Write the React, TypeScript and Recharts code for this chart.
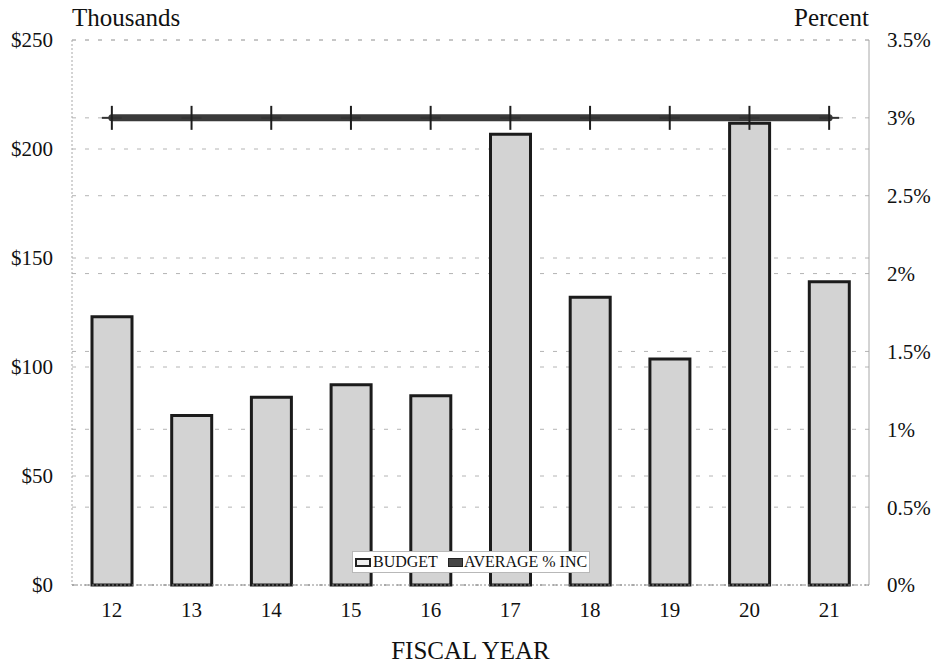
import React from 'react';
import {
  ComposedChart,
  Bar,
  Line,
  XAxis,
  YAxis,
  CartesianGrid,
  Legend,
  Label,
} from 'recharts';

// Fiscal years on the category axis
const years = ['12', '13', '14', '15', '16', '17', '18', '19', '20', '21'];
// Budget per fiscal year, in thousands of dollars
const budget = [123.1, 77.8, 86.1, 91.9, 86.8, 206.8, 132.0, 103.7, 211.8, 139.1];
// Average percent increase per fiscal year
const avgInc = [3, 3, 3, 3, 3, 3, 3, 3, 3, 3];
// Tick values for the two value axes
const dollarTicks = [0, 50, 100, 150, 200, 250];
const percentTicks = [0, 0.5, 1, 1.5, 2, 2.5, 3, 3.5];

const FONT = '"Liberation Serif", "Times New Roman", serif';

const rows = years.map((year, i) => ({
  year,
  budget: budget[i],
  avgInc: avgInc[i],
}));

const CrossDot = (props: any) => {
  const { cx, cy, index } = props;
  if (cx == null || cy == null) return null;
  return (
    <g key={`dot-${index}`}>
      <line x1={cx - 10} x2={cx + 10} y1={cy} y2={cy} stroke="#333" strokeWidth={2} />
      <line x1={cx} x2={cx} y1={cy - 12} y2={cy + 12} stroke="#1e1e1e" strokeWidth={2} />
    </g>
  );
};

const LegendBox = () => (
  <div
    style={{
      display: 'flex',
      alignItems: 'center',
      height: 22,
      width: 238,
      boxSizing: 'border-box',
      border: '1px solid #b8b8b8',
      background: '#fff',
      fontFamily: FONT,
      fontSize: 16,
      color: '#111',
      whiteSpace: 'nowrap',
      paddingLeft: 2,
    }}
  >
    <span
      style={{
        display: 'inline-block',
        width: 16,
        height: 9,
        boxSizing: 'border-box',
        border: '2px solid #222',
        background: '#eeeeee',
        marginRight: 2,
      }}
    />
    <span style={{ marginRight: 10 }}>BUDGET</span>
    <span
      style={{
        display: 'inline-block',
        width: 15,
        height: 9,
        boxSizing: 'border-box',
        border: '1px solid #222',
        background: '#454545',
        marginRight: 1,
      }}
    />
    <span>AVERAGE % INC</span>
  </div>
);

const axisTitle = (text: string, side: 'left' | 'right') => (props: any) => {
  const vb = props.viewBox || {};
  const x = side === 'left' ? (vb.x ?? 0) + (vb.width ?? 72) : vb.x ?? 869;
  const y = (vb.y ?? 40) - 14;
  return (
    <text
      x={x}
      y={y}
      textAnchor={side === 'left' ? 'start' : 'end'}
      fontFamily={FONT}
      fontSize={25}
      fill="#111"
    >
      {text}
    </text>
  );
};

// Tick renderers that pin the serif face on every label
const makeTick =
  (anchor: 'start' | 'middle' | 'end', dy: string, format: (v: any) => string) =>
  (props: any) => {
    const { x, y, payload } = props;
    return (
      <text
        x={x}
        y={y}
        dy={dy}
        textAnchor={anchor}
        fontFamily={FONT}
        fontSize={21}
        fill="#111"
      >
        {format(payload.value)}
      </text>
    );
  };

const xTick = makeTick('middle', '0.71em', (v) => `${v}`);
const dollarTick = makeTick('end', '0.355em', (v) => `$${v}`);
const percentTick = makeTick('start', '0.355em', (v) => `${v}%`);

export default function App() {
  return (
    <div style={{ position: 'absolute', left: 0, top: 0, background: '#fff', fontFamily: FONT }}>
      <ComposedChart
        width={935}
        height={664}
        data={rows}
        margin={{ top: 40, right: 0, bottom: 0, left: 0 }}
        barCategoryGap="50%"
        style={{ fontFamily: FONT }}
      >
        <CartesianGrid
          yAxisId="left"
          vertical={false}
          stroke="#b4b4b4"
          strokeDasharray="4 9"
        />
        <CartesianGrid
          yAxisId="right"
          vertical={false}
          stroke="#b4b4b4"
          strokeDasharray="4 9"
        />
        <XAxis
          dataKey="year"
          height={79}
          tickLine={false}
          tickSize={0}
          tickMargin={17}
          axisLine={{ stroke: '#8a8a8a', strokeDasharray: '2 2' }}
          tick={xTick}
        >
          <Label
            value="FISCAL YEAR"
            position="insideBottom"
            offset={5}
            style={{ fontFamily: FONT, fontSize: 25, fill: '#111' }}
          />
        </XAxis>
        <YAxis
          yAxisId="left"
          orientation="left"
          width={72}
          domain={[0, 250]}
          ticks={dollarTicks}
          interval={0}
          tickLine={false}
          tickSize={0}
          tickMargin={19}
          axisLine={{ stroke: '#a8a8a8', strokeDasharray: '2 2' }}
          tick={dollarTick}
        >
          <Label content={axisTitle('Thousands', 'left')} />
        </YAxis>
        <YAxis
          yAxisId="right"
          orientation="right"
          width={66}
          domain={[0, 3.5]}
          ticks={percentTicks}
          interval={0}
          tickLine={false}
          tickSize={0}
          tickMargin={18}
          axisLine={{ stroke: '#a8a8a8' }}
          tick={percentTick}
        >
          <Label content={axisTitle('Percent', 'right')} />
        </YAxis>
        <Bar
          yAxisId="left"
          dataKey="budget"
          name="BUDGET"
          barSize={40}
          fill="#d3d3d3"
          stroke="#1b1b1b"
          strokeWidth={3}
          isAnimationActive={false}
        />
        <Line
          yAxisId="right"
          dataKey="avgInc"
          name="AVERAGE % INC"
          type="linear"
          stroke="#3a3a3a"
          strokeWidth={7}
          strokeLinecap="round"
          dot={CrossDot}
          activeDot={false}
          isAnimationActive={false}
        />
        <Legend
          layout="horizontal"
          align="center"
          verticalAlign="middle"
          content={LegendBox}
          wrapperStyle={{ position: 'absolute', left: 352, top: 551, width: 238, height: 22 }}
        />
      </ComposedChart>
    </div>
  );
}
